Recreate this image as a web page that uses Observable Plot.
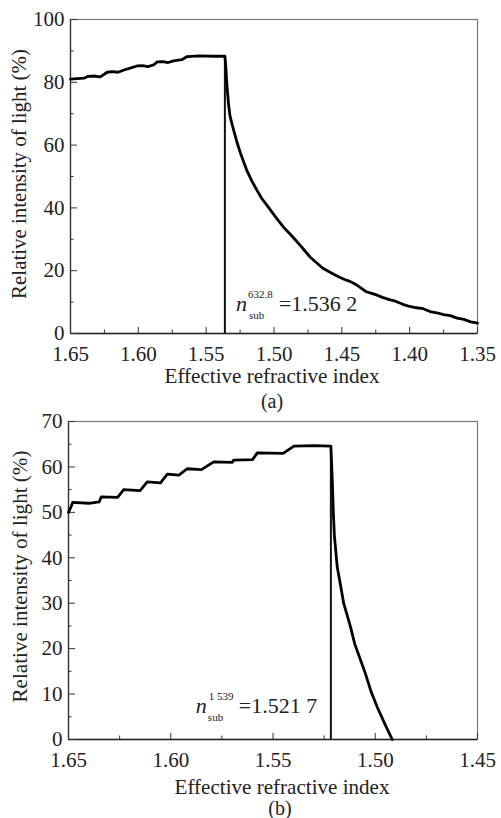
<!DOCTYPE html>
<html>
<head>
<meta charset="utf-8">
<script src="https://cdn.jsdelivr.net/npm/d3@7"></script>
<script src="https://cdn.jsdelivr.net/npm/@observablehq/plot@0.6"></script>
<style>
  html, body { margin: 0; padding: 0; background: #fff; }
  #wrap { position: relative; width: 501px; height: 818px; font-family: "Liberation Serif", "Tinos", "Times New Roman", "DejaVu Serif", serif; color: #222; }
  .cap { position: absolute; font-size: 20px; text-align: center; width: 100px; line-height: 18px; }
  svg { position: absolute; left: 0; }
</style>
</head>
<body>
<div id="wrap">
  <div id="plotA"></div>
  <div id="plotB"></div>
  <div class="cap" id="capA">(a)</div>
  <div class="cap" id="capB">(b)</div>
</div>
<script>
// ---------- Panel (a) data ----------
const indexA = [1.650,1.645,1.640,1.637,1.632,1.628,1.623,1.619,1.615,1.610,1.606,1.601,1.597,1.593,1.589,1.586,1.582,1.578,1.574,1.568,1.564,1.555,1.545,1.537,1.5362,
  1.5355,1.535,1.5343,1.5335,1.5325,1.531,1.5296,1.527,1.5247,1.522,1.5198,1.516,1.5124,1.509,1.505,1.500,1.4965,1.4928,1.488,1.484,1.4805,1.477,1.4731,
  1.468,1.464,1.460,1.456,1.452,1.448,1.444,1.440,1.436,1.432,1.428,1.424,1.420,1.415,1.410,1.405,1.400,1.395,1.390,1.385,1.380,1.375,1.370,1.365,1.360,1.355,1.350];
const intensityA = [81.0,81.2,81.3,81.9,82.0,81.7,83.2,83.4,83.2,84.0,84.5,85.2,85.3,85.0,85.5,86.5,86.6,86.3,86.8,87.2,88.2,88.4,88.3,88.3,88.3,
  85,81,77,73,69.5,66.8,64.5,60.5,57.4,54.2,51.7,48.3,45.5,43,40.7,37.8,35.8,33.8,31.6,29.7,28.0,26.2,24.2,
  22.3,20.8,19.8,18.9,18,17.2,16.6,15.7,14.5,13.3,12.8,12.2,11.5,10.8,10.2,9.3,8.6,8.2,7.9,7.0,6.6,6.0,5.7,4.9,4.5,3.7,3.3];
const nA = 1.5362, peakA = 88.3;
const xTicksA = [1.65,1.60,1.55,1.50,1.45,1.40,1.35];
const xMinorA = [1.625,1.575,1.525,1.475,1.425,1.375];
const yTicksA = [0,20,40,60,80,100];
const yMinorA = [10,30,50,70,90];
const supA = "632.8", valA = "=1.536 2";

// ---------- Panel (b) data ----------
const indexB = [1.650,1.6485,1.648,1.640,1.635,1.634,1.626,1.623,1.615,1.6115,1.605,1.6017,1.596,1.592,1.585,1.579,1.570,1.5692,1.560,1.5577,1.545,1.5398,1.530,1.5217,
  1.521,1.5205,1.520,1.519,1.5186,1.517,1.5154,1.5135,1.5121,1.510,1.508,1.5048,1.502,1.4991,1.4955,1.4917];
const intensityB = [50.0,51.5,52.2,52.0,52.3,53.4,53.3,55.0,54.8,56.7,56.5,58.4,58.2,59.6,59.4,61.1,61.0,61.5,61.6,63.1,63.0,64.6,64.7,64.6,
  57,50,45,40,38,34,29.9,27,24.8,21,18.5,14.5,10.5,7.2,3.6,0];
const nB = 1.5217, peakB = 64.6;
const xTicksB = [1.65,1.60,1.55,1.50,1.45];
const xMinorB = [1.625,1.575,1.525,1.475];
const yTicksB = [0,10,20,30,40,50,60,70];
const yMinorB = [5,15,25,35,45,55,65];
const supB = "1 539", valB = "=1.521 7";

const xTitle = "Effective refractive index";
const yTitle = "Relative intensity of light (%)";

const FONT = "'Liberation Serif', Tinos, 'Times New Roman', 'DejaVu Serif', serif";
const INK = "#222";

function panel({xs, ys, n, peak, xTicks, xMinor, yTicks, yMinor, sup, val,
                height, mt, mb, ml, mr, ann, xTitleDx, xTitleDy, yTitleDx, yTitleDy}) {
  const data = xs.map((x, i) => ({x, y: ys[i]}));
  const textOpts = {fill: INK};
  return Plot.plot({
    width: 501, height,
    marginTop: mt, marginBottom: mb, marginLeft: ml, marginRight: mr,
    x: {domain: [xTicks[0], xTicks[xTicks.length - 1]]},
    y: {domain: [yTicks[0], yTicks[yTicks.length - 1]]},
    style: {fontFamily: FONT, fontSize: "21px", color: INK, background: "transparent", overflow: "visible"},
    marks: [
      Plot.frame({stroke: "#777", strokeWidth: 1.2}),
      Plot.ruleY([yTicks[0]], {stroke: "#222", strokeWidth: 1.5}),
      Plot.ruleX([xTicks[0]], {stroke: "#333", strokeWidth: 1.3}),
      Plot.axisY({ticks: yTicks, tickSize: -7, tickPadding: 13, label: null, tickFormat: d => String(d), stroke: "#333", fill: INK}),
      Plot.axisY({ticks: yMinor, tickSize: -3.5, tickFormat: () => "", label: null, stroke: "#333"}),
      Plot.axisX({ticks: xTicks, tickSize: -6, tickPadding: 19, label: null, tickFormat: d => d.toFixed(2), stroke: "#333", fill: INK}),
      Plot.axisX({ticks: xMinor, tickSize: -3.5, tickFormat: () => "", label: null, stroke: "#333"}),
      Plot.ruleX([n], {y1: yTicks[0], y2: peak, stroke: "#111", strokeWidth: 2}),
      Plot.line(data, {x: "x", y: "y", stroke: "#000", strokeWidth: 2.8, strokeLinejoin: "round"}),
      // annotation
      Plot.text(["n"], {text: d => d, x: n, frameAnchor: "bottom", dx: ann.n, dy: -ann.base, textAnchor: "start", lineAnchor: "bottom", fontSize: 22, fontStyle: "italic", ...textOpts}),
      Plot.text([sup], {text: d => d, x: n, frameAnchor: "bottom", dx: ann.sup, dy: -ann.base - 13, textAnchor: "start", lineAnchor: "bottom", fontSize: 11, ...textOpts}),
      Plot.text(["sub"], {text: d => d, x: n, frameAnchor: "bottom", dx: ann.sub, dy: -ann.base + 8, textAnchor: "start", lineAnchor: "bottom", fontSize: 11, ...textOpts}),
      Plot.text([val], {text: d => d, x: n, frameAnchor: "bottom", dx: ann.val, dy: -ann.base, textAnchor: "start", lineAnchor: "bottom", fontSize: 22, ...textOpts}),
      // titles
      Plot.text([xTitle], {text: d => d, frameAnchor: "bottom", dx: xTitleDx, dy: xTitleDy, lineAnchor: "middle", fontSize: 21, ...textOpts}),
      Plot.text([yTitle], {text: d => d, frameAnchor: "left", dx: yTitleDx, dy: yTitleDy, rotate: -90, lineAnchor: "middle", textAnchor: "middle", fontSize: 20, ...textOpts})
    ]
  });
}

// scale a title's font so that its length matches the reference
function fitText(svg, str, targetLen) {
  for (const t of svg.querySelectorAll("text")) {
    if (t.textContent === str) {
      const fs = parseFloat(getComputedStyle(t).fontSize);
      const len = t.getComputedTextLength();
      if (len > 0) t.style.fontSize = (fs * targetLen / len).toFixed(2) + "px";
    }
  }
}

const svgA = panel({xs: indexA, ys: intensityA, n: nA, peak: peakA, xTicks: xTicksA, xMinor: xMinorA,
  yTicks: yTicksA, yMinor: yMinorA, sup: supA, val: valA,
  height: 390, mt: 19, mb: 57, ml: 70, mr: 24,
  ann: {n: 11, sup: 23, sub: 24, val: 54, base: 23}, xTitleDx: -2, xTitleDy: 43, yTitleDx: -51, yTitleDy: -2.5});
svgA.style.top = "0px";
document.getElementById("plotA").appendChild(svgA);
fitText(svgA, xTitle, 215);
fitText(svgA, yTitle, 250);

const svgB = panel({xs: indexB, ys: intensityB, n: nB, peak: peakB, xTicks: xTicksB, xMinor: xMinorB,
  yTicks: yTicksB, yMinor: yMinorB, sup: supB, val: valB,
  height: 408, mt: 11, mb: 79, ml: 68, mr: 24,
  ann: {n: -135, sup: -122, sub: -123, val: -92, base: 27}, xTitleDx: 9, xTitleDy: 47.5, yTitleDx: -48, yTitleDy: -4});
svgB.style.top = "410px";
document.getElementById("plotB").appendChild(svgB);
fitText(svgB, xTitle, 215);
fitText(svgB, yTitle, 252);

const capA = document.getElementById("capA");
capA.style.left = (272 - 50) + "px"; capA.style.top = "392px";
const capB = document.getElementById("capB");
capB.style.left = (280 - 50) + "px"; capB.style.top = "799px";
</script>
</body>
</html>
